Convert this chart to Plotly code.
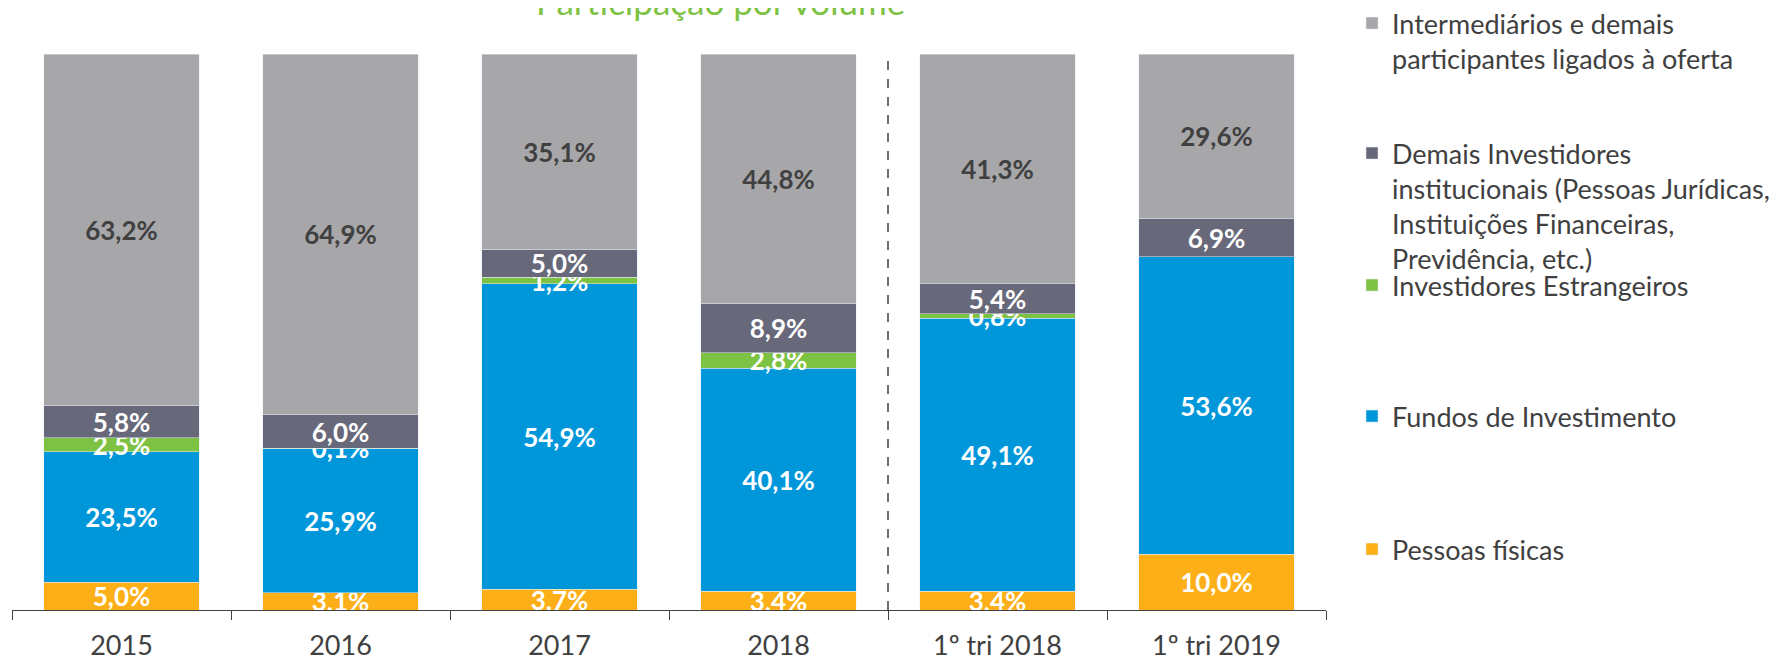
import plotly.graph_objects as go

categorias = ['2015', '2016', '2017', '2018', '1º tri 2018', '1º tri 2019']

pessoas_fisicas = [5.0, 3.1, 3.7, 3.4, 3.4, 10.0]
fundos = [23.5, 25.9, 54.9, 40.1, 49.1, 53.6]
estrangeiros = [2.5, 0.1, 1.2, 2.8, 0.8, 0.0]
demais_institucionais = [5.8, 6.0, 5.0, 8.9, 5.4, 6.9]
intermediarios = [63.2, 64.9, 35.1, 44.8, 41.3, 29.6]

FONT = 'Lato'
TXT = '#404040'

def rotulo(v):
    return '' if v == 0 else f'{v:.1f}'.replace('.', ',') + '%'

series = [
    ('Pessoas físicas', pessoas_fisicas, '#FCAF17', 'white', 'legend5'),
    ('Fundos de Investimento', fundos, '#0096DA', 'white', 'legend4'),
    ('Investidores Estrangeiros', estrangeiros, '#7DC242', 'white', 'legend3'),
    ('Demais Investidores<br>institucionais (Pessoas Jurídicas,<br>Instituições Financeiras,<br>Previdência, etc.)',
     demais_institucionais, '#676879', 'white', 'legend2'),
    ('Intermediários e demais<br>participantes ligados à oferta', intermediarios, '#A7A7AA', TXT, 'legend'),
]

fig = go.Figure()
for nome, vals, cor, cor_txt, leg in series:
    fig.add_trace(go.Bar(
        x=categorias, y=vals, name=nome, marker_color=cor,
        text=[rotulo(v) for v in vals], textposition='inside',
        insidetextanchor='middle', textangle=0,
        textfont=dict(family=FONT, size=26, color=cor_txt, weight='bold'),
        legend=leg, showlegend=True,
    ))

# área do gráfico em px (a página tem margem de 8px no body)
W, H = 1770, 651
TOP, BOT = 46, 602
def ypaper(px):
    return (BOT - px) / (BOT - TOP)

leg_style = dict(font=dict(family=FONT, size=27, color=TXT), bgcolor='rgba(0,0,0,0)',
                 x=1.0198, xanchor='left', yanchor='top', valign='top')
leg_tops = {'legend': -9, 'legend2': 121, 'legend3': 253, 'legend4': 384, 'legend5': 517}

fig.update_layout(
    barmode='stack', barnorm='percent', bargap=0.29,
    width=W, height=H,
    margin=dict(l=4, r=452, t=TOP, b=H - BOT, autoexpand=False),
    plot_bgcolor='white', paper_bgcolor='white',
    font=dict(family=FONT, color=TXT),
    showlegend=True,
    uniformtext=dict(minsize=26, mode='show'),
    xaxis=dict(showline=True, linecolor=TXT, linewidth=1, ticks='outside',
               tickson='boundaries', ticklen=9, tickcolor=TXT,
               tickfont=dict(family=FONT, size=27, color=TXT),
               ticklabelstandoff=12, showgrid=False, automargin=False),
    yaxis=dict(visible=False, range=[0, 100]),
    shapes=[dict(type='line', xref='x', yref='paper', x0=3.5, x1=3.5, y0=0, y1=1,
                 line=dict(color=TXT, width=1.5, dash='dash'))],
    annotations=[dict(text='Participação por volume', xref='paper', yref='paper',
                      x=(712 - 4) / 1314, y=ypaper(-7), xanchor='center', yanchor='middle',
                      showarrow=False, font=dict(family=FONT, size=35, color='#7DC242'))],
)
for k, top in leg_tops.items():
    fig.update_layout({k: dict(leg_style, y=ypaper(top))})

fig.write_html('out.html')
